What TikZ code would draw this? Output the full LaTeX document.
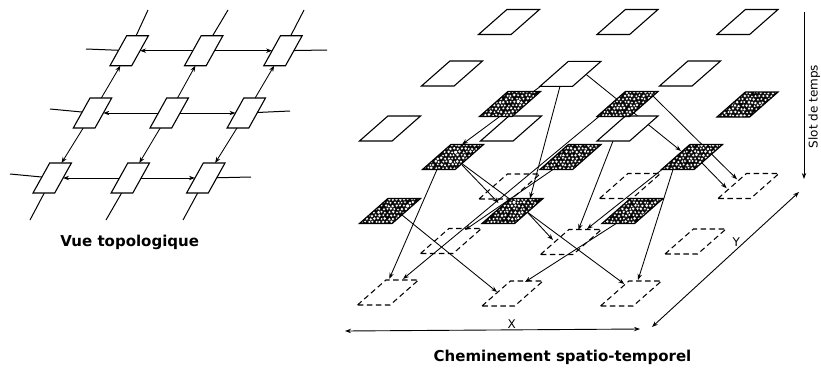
\documentclass[tikz,border=0pt]{standalone}
\usepackage{fontspec}
\setmainfont{DejaVu Sans}
\usetikzlibrary{shapes.geometric,arrows.meta}

\pgfdeclarelayer{edges}
\pgfsetlayers{edges,main}

\tikzset{
  headtip/.style={-{Stealth[length=6pt,width=4.4pt]}},
  bothtips/.style={{Stealth[length=6pt,width=4.4pt]}-{Stealth[length=6pt,width=4.4pt]}},
  flow/.style={line width=0.85pt, headtip},
  gridline/.style={line width=1pt},
  axisline/.style={line width=0.9pt},
  % cells of the topological view
  cellbox/.style={trapezium, trapezium left angle=60.9, trapezium right angle=119.1,
    inner xsep=2.5pt, inner ysep=15pt, minimum width=0pt, minimum height=0pt,
    outer sep=0pt, draw, fill=white, line width=1.1pt},
  % time-slot cells of the spatio-temporal view
  slotbase/.style={trapezium, trapezium left angle=41.36, trapezium right angle=138.64,
    inner xsep=2.1pt, inner ysep=12.5pt, minimum width=0pt, minimum height=0pt,
    outer sep=0pt},
  freeslot/.style={slotbase, draw, fill=white, line width=1.1pt},
  busyslot/.style={slotbase, draw, line width=1.2pt, path picture={
      \fill[black] (path picture bounding box.south west) rectangle (path picture bounding box.north east);
      \foreach \j in {0,...,8}{
        \foreach \i in {0,...,17}{
          \pgfmathsetmacro\dx{\i*3.7+mod(\j,2)*1.85+(rnd-0.5)*1.4}
          \pgfmathsetmacro\dy{\j*3.25+0.8+(rnd-0.5)*1.2}
          \pgfmathsetmacro\rr{1.5+rnd*0.5}
          \draw[fill=white, line width=0.4pt]
            ([xshift=\dx pt, yshift=-\dy pt]path picture bounding box.north west) circle[radius=\rr pt];
        }
      }
    }},
  nextslot/.style={slotbase, draw, line width=1.05pt, dash pattern=on 5.5pt off 3.5pt},
  caption/.style={font=\bfseries\fontsize{15}{18}\selectfont, anchor=base, inner sep=0pt},
  axislabel/.style={font=\fontsize{12}{14}\selectfont, anchor=base, inner sep=0pt}
}

\begin{document}
\pgfmathsetseed{11}
\begin{tikzpicture}[x=1pt,y=-1pt]
\useasboundingbox (0,0) rectangle (821,367);

% ---------------- topological view ----------------
\node[cellbox] (L00) at (129.2,50.7) {};
\node[cellbox] (L01) at (203.7,50.7) {};
\node[cellbox] (L02) at (283.0,50.7) {};
\node[cellbox] (L10) at (92.5,113) {};
\node[cellbox] (L11) at (169.2,113) {};
\node[cellbox] (L12) at (246.3,113) {};
\node[cellbox] (L20) at (52.2,178) {};
\node[cellbox] (L21) at (130.3,178) {};
\node[cellbox] (L22) at (205.8,178) {};

% loose ends of the grid lines
\coordinate (c0b) at (30,220);  \coordinate (c0t) at (148,10);
\coordinate (c1b) at (106,220); \coordinate (c1t) at (228,10);
\coordinate (c2b) at (183,220); \coordinate (c2t) at (304,10);
\coordinate (r0l) at (86,49);   \coordinate (r0r) at (327,50);
\coordinate (r1l) at (50,109);  \coordinate (r1r) at (290,111);
\coordinate (r2l) at (10,174);  \coordinate (r2r) at (251,177);

\begin{pgfonlayer}{edges}
  \draw[gridline] (c0b) -- (L20);  \draw[gridline] (L00) -- (c0t);
  \draw[gridline] (c1b) -- (L21);  \draw[gridline] (L01) -- (c1t);
  \draw[gridline] (c2b) -- (L22);  \draw[gridline] (L02) -- (c2t);
  \draw[gridline] (r0l) -- (L00);  \draw[gridline] (L02) -- (r0r);
  \draw[gridline] (r1l) -- (L10);  \draw[gridline] (L12) -- (r1r);
  \draw[gridline] (r2l) -- (L20);  \draw[gridline] (L22) -- (r2r);
\end{pgfonlayer}

\draw[flow] (L10) -- (L00);
\draw[flow] (L10) -- (L20);
\draw[flow] (L11) -- (L01);
\draw[flow] (L11) -- (L21);
\draw[flow] (L12) -- (L02);
\draw[flow] (L12) -- (L22);
\draw[flow] (L01) -- (L00);
\draw[flow] (L01) -- (L02);
\draw[flow] (L11) -- (L10);
\draw[flow] (L11) -- (L12);
\draw[flow] (L21) -- (L20);
\draw[flow] (L21) -- (L22);

\node[caption] (topcap) at (129.7,246) {Vue topologique};

% ---------------- spatio-temporal view ----------------
% slot t : free cells
\node[freeslot] (T00) at (509,22) {};
\node[freeslot] (T01) at (627.5,22) {};
\node[freeslot] (T02) at (747.5,22) {};
\node[freeslot] (T10) at (452,73.5) {};
\node[freeslot] (T11) at (570.5,73.8) {};
\node[freeslot] (T12) at (690,73.5) {};
\node[freeslot] (T20) at (390,128.5) {};
\node[freeslot] (T21) at (511,128.5) {};
\node[freeslot] (T22) at (627.5,128.5) {};
% slot t+1 : occupied cells
\node[busyslot] (M00) at (510,104) {};
\node[busyslot] (M01) at (627.5,104) {};
\node[busyslot] (M02) at (747.5,104.5) {};
\node[busyslot] (M10) at (453,157) {};
\node[busyslot] (M11) at (570.5,157) {};
\node[busyslot] (M12) at (692,157) {};
\node[busyslot] (M20) at (390,211) {};
\node[busyslot] (M21) at (512.5,211) {};
\node[busyslot] (M22) at (632.5,211) {};
% slot t+2 : future cells
\node[nextslot] (B00) at (509.5,186.5) {};
\node[nextslot] (B01) at (630,186) {};
\node[nextslot] (B02) at (748.5,186) {};
\node[nextslot] (B10) at (451,241) {};
\node[nextslot] (B11) at (571,242) {};
\node[nextslot] (B12) at (695.5,241.5) {};
\node[nextslot] (B20) at (388,292.5) {};
\node[nextslot] (B21) at (512.5,293.5) {};
\node[nextslot] (B22) at (631,293.5) {};

\begin{pgfonlayer}{edges}
  \draw[flow] ([shift={(-30,12.5)}]T11.center) -- ([shift={(9,-12.5)}]M10.center);
  \draw[flow] ([shift={(-10.5,12.5)}]T11.center) -- ([shift={(17.5,-12.5)}]M21.center);
  \draw[flow] ([shift={(15.5,0.5)}]T11.center) -- ([shift={(-11,-6)}]M12.center);
  \draw[flow] ([shift={(-14.5,12.5)}]T22.center) -- ([shift={(7.3,-12)}]B11.center);
  \draw[flow] ([shift={(24.5,-9)}]M01.center) -- ([shift={(-11.5,-6.7)}]B02.center);
  \draw[flow] ([shift={(10,6)}]M12.center) -- ([shift={(-21.8,2.3)}]B02.center);
  \draw[flow] ([shift={(-16,12.5)}]M10.center) -- ([shift={(1.3,-13.7)}]B20.center);
  \draw[flow] ([shift={(9,8)}]M10.center) -- ([shift={(-14,-8)}]M21.center);
  \draw[flow] (M10.center) -- ([shift={(-6.7,-9.5)}]B22.center);
  \draw[flow] ([shift={(14.5,1)}]M21.center) -- ([shift={(-18,-2)}]B11.center);
  \draw[flow] ([shift={(-17.5,12.5)}]M11.center) -- ([shift={(14,-11)}]B10.center);
  \draw[flow] ([shift={(-28.5,12.5)}]M01.center) -- ([shift={(15,-13.5)}]B20.center);
  \draw[flow] ([shift={(-19,12.5)}]M12.center) -- ([shift={(7,-13.5)}]B22.center);
  \draw[flow] ([shift={(-30,12.5)}]M12.center) -- ([shift={(16,-13)}]B11.center);
  \draw[flow] ([shift={(-15.5,12)}]M22.center) -- ([shift={(12.5,-11.5)}]B21.center);
  \draw[flow] ([shift={(12,4)}]M20.center) -- ([shift={(-15.5,-1.5)}]B21.center);
\end{pgfonlayer}

% axes
\coordinate (xa) at (345,331); \coordinate (xb) at (640,329);
\coordinate (ya) at (652,327); \coordinate (yb) at (799,192);
\coordinate (ta) at (804,12);  \coordinate (tb) at (804,179);
\draw[axisline, bothtips] (xa) -- (xb);
\draw[axisline, bothtips] (ya) -- (yb);
\draw[axisline, headtip] (ta) -- (tb);

\node[axislabel] (xlab) at (511.7,328.3) {X};
\node[axislabel] (ylab) at (736.3,246) {Y};
\node[font=\fontsize{12}{14}\selectfont, rotate=90, anchor=north, inner sep=0pt] (tlab) at (808.3,106.5) {Slot de temps};

\node[caption] (rightcap) at (562.5,361) {Cheminement spatio-temporel};
\end{tikzpicture}
\end{document}
